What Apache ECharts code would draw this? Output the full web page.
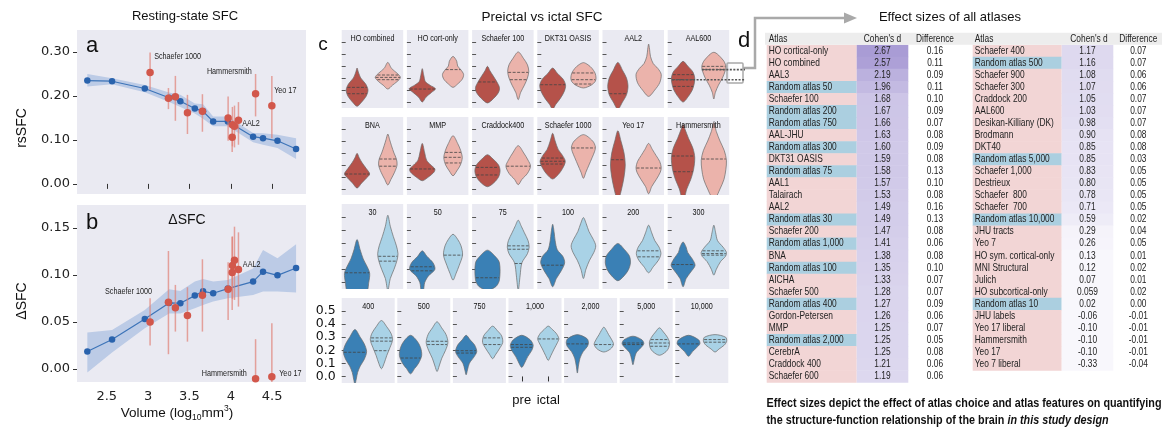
<!DOCTYPE html>
<html><head><meta charset="utf-8">
<script src="https://cdn.jsdelivr.net/npm/echarts@6/dist/echarts.min.js"></script>
<style>html,body{margin:0;padding:0;background:#fff;overflow:hidden}#c{width:1173px;height:430px}</style>
</head><body><div id="c"></div>
<script>
// ================= DATA =================
// Panels a/b: random-atlas trend (x = log10 volume)
const volX    = [2.265,2.564,2.96,3.254,3.39,3.565,3.665,3.787,3.965,4.27,4.39,4.565,4.79];
const rsMean  = [0.235,0.2335,0.217,0.196,0.188,0.1716,0.165,0.142,0.142,0.1073,0.104,0.098,0.0794];
const rsLow   = [0.2216,0.2267,0.2086,0.186,0.175,0.160,0.148,0.131,0.131,0.0945,0.089,0.0816,0.0567];
const rsHigh  = [0.250,0.240,0.225,0.208,0.2026,0.183,0.181,0.1535,0.1535,0.1157,0.115,0.112,0.104];
const dMean   = [0.0184,0.0312,0.0532,0.0702,0.0699,0.078,0.0826,0.0805,0.0855,0.0929,0.1035,0.0996,0.1074];
const dLow    = [-0.004,0.0173,0.0433,0.059,0.059,0.0646,0.068,0.0716,0.0752,0.0787,0.0823,0.0823,0.0812];
const dHigh   = [0.0386,0.0415,0.0628,0.0848,0.083,0.093,0.0957,0.093,0.0947,0.107,0.1266,0.1177,0.1326];
// named atlases (red)
const atlasX      = [3.024,3.246,3.33,3.476,3.657,3.968,4.017,4.02,4.045,4.093,4.30,4.497];
const rsAtlas     = [0.2533,0.195,0.198,0.162,0.165,0.1497,0.106,0.1345,0.131,0.1445,0.2048,0.1776];
const rsAtlasLow  = [0.214,0.170,0.1435,0.1134,0.1186,0.098,0.0726,0.0855,0.083,0.089,0.1535,0.104];
const rsAtlasHigh = [0.299,0.218,0.2456,0.2025,0.204,0.199,0.138,0.175,0.178,0.186,0.250,0.2456];
const dAtlas      = [0.05,0.071,0.0652,0.0567,0.0784,0.0848,0.1025,0.11,0.1156,0.1057,-0.0106,-0.0085];
const dAtlasLow   = [0.0248,0.0156,0.0397,0.029,0.0397,0.052,0.0628,0.0745,0.0734,0.0663,-0.06,-0.06];
const dAtlasHigh  = [0.0752,0.1255,0.0894,0.0869,0.1167,0.1135,0.1407,0.141,0.1514,0.1454,0.0316,0.0486];
const volTicks = [2.5,3,3.5,4,4.5];
const rsTicks = [0,0.1,0.2,0.3];
const dTicks = [0,0.05,0.10,0.15];
// annotation labels [text, x, y]
const rsNotes = [['Schaefer 1000',3.073,0.2896],['Hammersmith',3.711,0.2556],['Yeo 17',4.525,0.2138],['AAL2',4.138,0.1383]];
const dNotes  = [['Schaefer 1000',2.479,0.0822],['AAL2',4.146,0.1117],['Hammersmith',3.65,-0.0053],['Yeo 17',4.586,-0.0053]];

// Panel c: violins. shape = [[value, half-width (fraction of category band)], ...]
const panelNames = ['HO combined','HO cort-only','Schaefer 100','DKT31 OASIS','AAL2','AAL600',
  'BNA','MMP','Craddock400','Schaefer 1000','Yeo 17','Hammersmith',
  '30','50','75','100','200','300',
  '400','500','750','1,000','2,000','5,000','10,000'];
const violinGroups = ['pre','ictal'];
const violinTicks = [0,0.1,0.2,0.3,0.4,0.5];
const preShape = [
 [[-0.036,0],[0.0,0.15],[0.05,0.30],[0.10,0.355],[0.15,0.28],[0.20,0.12],[0.25,0.04],[0.283,0]],
 [[0,0],[0.04,0.12],[0.08,0.3],[0.11,0.43],[0.14,0.25],[0.17,0.1],[0.22,0.05],[0.278,0]],
 [[-0.008,0],[0.03,0.2],[0.08,0.36],[0.12,0.39],[0.17,0.3],[0.22,0.18],[0.26,0.08],[0.297,0]],
 [[-0.06,0],[-0.02,0.1],[0.03,0.25],[0.09,0.38],[0.14,0.42],[0.19,0.34],[0.24,0.15],[0.283,0]],
 [[-0.06,0],[0,0.15],[0.06,0.28],[0.13,0.33],[0.2,0.28],[0.26,0.16],[0.33,0]],
 [[0,0],[0.05,0.18],[0.1,0.3],[0.15,0.36],[0.2,0.38],[0.25,0.32],[0.3,0.15],[0.339,0]],
 [[0.008,0],[0.05,0.15],[0.09,0.3],[0.125,0.41],[0.17,0.3],[0.22,0.16],[0.26,0.07],[0.297,0]],
 [[0.069,0],[0.1,0.2],[0.14,0.38],[0.167,0.41],[0.2,0.28],[0.24,0.14],[0.3,0.08],[0.38,0]],
 [[0.019,0],[0.05,0.2],[0.1,0.36],[0.153,0.41],[0.2,0.36],[0.25,0.18],[0.286,0]],
 [[0.083,0],[0.12,0.18],[0.17,0.32],[0.23,0.41],[0.28,0.32],[0.33,0.18],[0.4,0.08],[0.464,0]],
 [[-0.07,0.04],[0.0,0.12],[0.1,0.2],[0.2,0.24],[0.3,0.2],[0.4,0.1],[0.486,0]],
 [[-0.07,0.04],[0,0.12],[0.08,0.25],[0.16,0.34],[0.26,0.38],[0.34,0.32],[0.42,0.18],[0.5,0.06],[0.54,0]],
 [[-0.07,0.3],[0,0.38],[0.07,0.41],[0.12,0.33],[0.18,0.2],[0.25,0.1],[0.328,0]],
 [[-0.07,0.03],[0,0.08],[0.05,0.2],[0.1,0.41],[0.15,0.35],[0.2,0.15],[0.242,0]],
 [[-0.06,0],[-0.03,0.28],[0.02,0.39],[0.15,0.39],[0.2,0.25],[0.247,0]],
 [[-0.033,0],[0.03,0.12],[0.09,0.28],[0.15,0.39],[0.2,0.33],[0.25,0.15],[0.32,0.08],[0.38,0.05],[0.445,0]],
 [[0.013,0],[0.05,0.2],[0.1,0.35],[0.15,0.41],[0.2,0.38],[0.25,0.22],[0.298,0]],
 [[-0.033,0],[0.03,0.1],[0.08,0.25],[0.13,0.39],[0.18,0.3],[0.23,0.15],[0.27,0.1],[0.31,0]],
 [[-0.06,0],[-0.02,0.05],[0.03,0.1],[0.08,0.2],[0.13,0.35],[0.19,0.44],[0.25,0.35],[0.3,0.2],[0.359,0]],
 [[0.02,0],[0.06,0.15],[0.1,0.3],[0.16,0.42],[0.22,0.38],[0.27,0.25],[0.315,0]],
 [[0.013,0],[0.05,0.05],[0.1,0.12],[0.15,0.3],[0.19,0.4],[0.24,0.32],[0.28,0.15],[0.315,0]],
 [[0.069,0],[0.1,0.1],[0.15,0.22],[0.2,0.38],[0.24,0.43],[0.28,0.32],[0.315,0]],
 [[0.026,0],[0.08,0.04],[0.14,0.1],[0.19,0.22],[0.23,0.38],[0.26,0.42],[0.29,0.36],[0.32,0]],
 [[0.09,0],[0.13,0.05],[0.18,0.12],[0.22,0.3],[0.25,0.41],[0.28,0.34],[0.308,0]],
 [[0.154,0],[0.19,0.15],[0.22,0.3],[0.25,0.43],[0.28,0.38],[0.315,0]]
];
const ictalShape = [
 [[0.108,0],[0.14,0.15],[0.17,0.3],[0.205,0.41],[0.24,0.3],[0.28,0.12],[0.33,0]],
 [[0.122,0],[0.15,0.15],[0.19,0.3],[0.23,0.344],[0.27,0.25],[0.30,0.15],[0.34,0.12],[0.38,0]],
 [[0.02,0],[0.08,0.08],[0.14,0.2],[0.2,0.3],[0.255,0.344],[0.31,0.3],[0.36,0.18],[0.417,0]],
 [[0.117,0],[0.14,0.25],[0.17,0.38],[0.2,0.41],[0.24,0.38],[0.28,0.28],[0.31,0.15],[0.328,0]],
 [[0.047,0],[0.1,0.2],[0.16,0.36],[0.23,0.41],[0.28,0.3],[0.32,0.15],[0.38,0.06],[0.44,0.03],[0.483,0]],
 [[0.025,0],[0.08,0.05],[0.14,0.15],[0.2,0.28],[0.26,0.37],[0.3,0.39],[0.35,0.3],[0.414,0]],
 [[0.033,0],[0.08,0.1],[0.14,0.22],[0.2,0.3],[0.25,0.28],[0.3,0.2],[0.36,0.12],[0.41,0.06],[0.458,0]],
 [[0.11,0],[0.15,0.12],[0.2,0.24],[0.26,0.3],[0.32,0.25],[0.38,0.15],[0.444,0]],
 [[0.036,0],[0.08,0.12],[0.13,0.3],[0.19,0.4],[0.24,0.32],[0.3,0.18],[0.361,0]],
 [[0.089,0],[0.14,0.08],[0.2,0.18],[0.26,0.28],[0.31,0.36],[0.35,0.39],[0.4,0.3],[0.453,0]],
 [[-0.04,0],[0.02,0.1],[0.08,0.25],[0.14,0.38],[0.18,0.41],[0.23,0.36],[0.28,0.24],[0.33,0.12],[0.38,0]],
 [[-0.07,0.06],[0,0.2],[0.08,0.33],[0.16,0.39],[0.24,0.41],[0.32,0.34],[0.4,0.2],[0.48,0.08],[0.556,0]],
 [[-0.06,0],[0.03,0.08],[0.1,0.2],[0.17,0.3],[0.22,0.33],[0.28,0.28],[0.35,0.18],[0.43,0.08],[0.514,0]],
 [[0.018,0],[0.07,0.1],[0.13,0.2],[0.21,0.31],[0.28,0.26],[0.33,0.15],[0.369,0]],
 [[-0.06,0],[0.05,0.06],[0.15,0.12],[0.22,0.3],[0.27,0.355],[0.32,0.32],[0.38,0.2],[0.43,0.1],[0.476,0]],
 [[0.03,0],[0.1,0.08],[0.17,0.2],[0.23,0.34],[0.28,0.4],[0.33,0.32],[0.39,0.18],[0.45,0.09],[0.496,0]],
 [[0.074,0],[0.12,0.15],[0.17,0.32],[0.22,0.4],[0.27,0.34],[0.32,0.2],[0.38,0.1],[0.438,0]],
 [[0.056,0],[0.1,0.08],[0.16,0.22],[0.2,0.38],[0.23,0.41],[0.27,0.3],[0.32,0.12],[0.38,0.06],[0.438,0]],
 [[0.059,0],[0.1,0.1],[0.16,0.2],[0.22,0.32],[0.28,0.42],[0.33,0.36],[0.38,0.2],[0.428,0]],
 [[0.038,0],[0.08,0.08],[0.14,0.18],[0.2,0.32],[0.26,0.41],[0.32,0.34],[0.37,0.18],[0.418,0]],
 [[0.136,0],[0.17,0.12],[0.21,0.25],[0.26,0.38],[0.31,0.34],[0.35,0.18],[0.385,0]],
 [[0.123,0],[0.16,0.1],[0.21,0.22],[0.26,0.35],[0.29,0.4],[0.33,0.3],[0.36,0.15],[0.385,0]],
 [[0.187,0],[0.21,0.25],[0.245,0.365],[0.28,0.3],[0.32,0.18],[0.35,0.1],[0.377,0]],
 [[0.162,0],[0.19,0.25],[0.22,0.35],[0.26,0.38],[0.3,0.3],[0.34,0.15],[0.372,0]],
 [[0.187,0],[0.21,0.15],[0.24,0.35],[0.27,0.44],[0.3,0.4],[0.32,0]]
];
const preQuart = [[0.069,0.122],[0.108],[0.167],[0.144],[0.069],[0.13,0.186,0.228],
 [0.125],[0.167],[0.117,0.18],[0.208,0.231,0.258],[0.244],[0.144,0.275],
 [0.074],[0.089,0.12],[0.036],[0.132],[],[0.137],
 [0.185],[0.141],[0.179,0.197],[0.223,0.244],[0.249],[0.244,0.256],[0.249]];
const ictalQuart = [[0.186,0.205,0.225],[0.27],[0.186,0.247],[0.15,0.186,0.242],[],[0.27,0.297],
 [0.19,0.25],[0.217,0.264,0.305],[0.19],[0.342],[0.175],[0.25],
 [0.163,0.2],[0.209],[0.145,0.254,0.28],[],[0.196,0.242],[0.209,0.221,0.242],
 [0.197,0.27,0.295],[0.244,0.269],[0.244,0.295],[0.287],[0.244],[0.231,0.256,0.282],[0.262,0.282]];

// Panel d: effect-size table
const leftAtlas = ['HO cortical-only','HO combined','AAL3','Random atlas 50','Schaefer 100','Random atlas 200','Random atlas 750','AAL-JHU','Random atlas 300','DKT31 OASIS','Random atlas 75','AAL1','Talairach','AAL2','Random atlas 30','Schaefer 200','Random atlas 1,000','BNA','Random atlas 100','AICHA','Schaefer 500','Random atlas 400','Gordon-Petersen','MMP','Random atlas 2,000','CerebrA','Craddock 400','Schaefer 600'];
const leftCohen = [2.67,2.57,2.19,1.96,1.68,1.67,1.66,1.63,1.60,1.59,1.58,1.57,1.53,1.49,1.49,1.47,1.41,1.38,1.35,1.33,1.28,1.27,1.26,1.25,1.25,1.25,1.21,1.19];
const leftDiff  = [0.16,0.11,0.09,0.11,0.10,0.09,0.07,0.08,0.09,0.08,0.13,0.10,0.08,0.16,0.13,0.08,0.06,0.08,0.10,0.07,0.07,0.09,0.06,0.07,0.05,0.08,0.06,0.06];
const rightAtlas = ['Schaefer 400','Random atlas 500','Schaefer 900','Schaefer 300','Craddock 200','AAL600','Desikan-Killiany (DK)','Brodmann','DKT40','Random atlas 5,000','Schaefer 1,000','Destrieux','Schaefer  800','Schaefer  700','Random atlas 10,000','JHU tracts','Yeo 7','HO sym. cortical-only','MNI Structural','Julich','HO subcortical-only','Random atlas 10','JHU labels','Yeo 17 liberal','Hammersmith','Yeo 17','Yeo 7 liberal'];
const rightCohen = [1.17,1.16,1.08,1.07,1.05,1.03,0.98,0.90,0.85,0.85,0.83,0.80,0.78,0.71,0.59,0.29,0.26,0.13,0.12,0.07,0.059,0.02,-0.06,-0.10,-0.10,-0.10,-0.33];
const rightDiff  = [0.07,0.07,0.06,0.06,0.07,0.07,0.07,0.08,0.08,0.03,0.05,0.05,0.05,0.05,0.02,0.04,0.05,0.01,0.02,0.01,0.02,0.00,-0.01,-0.01,-0.01,-0.01,-0.04];
const tableHeader = ['Atlas',"Cohen's d",'Difference'];
const captionLine1 = 'Effect sizes depict the effect of atlas choice and atlas features on quantifying';
const captionLine2a = 'the structure-function relationship of the brain ';
const captionLine2b = 'in this study design';

// ================= STYLE / LAYOUT =================
const SANS = "'Liberation Sans', Arial, sans-serif";
const NARROW = "'Liberation Sans Narrow', 'Liberation Sans', Arial, sans-serif";
const DEJAVU = "'DejaVu Sans', sans-serif";
const BG = '#eaeaf2';
const COLS = {L:{name:[1.7,91.7], cohen:[91.7,143.3], diff:170}, R:{name:[207.7,296.7], cohen:[296.7,348.3], diff:373.3}};

// condensed-text scale factors (the original uses an Arial-Narrow-like face)
const mctx = document.createElement('canvas').getContext('2d');
function measure(font, s){ mctx.font = font; return mctx.measureText(s).width; }
const TFONT = '10.5px '+NARROW;
const NS = Math.min(1, 75 / measure(TFONT, 'Random atlas 1,000'));
const NOTEFONT = '9.5px '+NARROW;
const NOTES_S = Math.min(1, 47 / measure(NOTEFONT, 'Schaefer 1000'));
const VTFONT = '9px '+NARROW;
const VT_S = Math.min(1, 44 / measure(VTFONT, 'HO combined'));
const CAPFONT = 'bold 12.5px '+NARROW;
const CAP_S = Math.min(1, 395 / measure(CAPFONT, captionLine1));

const chart = echarts.init(document.getElementById('c'), null, {width:1173, height:430});
const grids=[], xAxes=[], yAxes=[], series=[];

function fmt(v){ const s=v.toFixed(2); return Number(s)===v ? s : String(v); }
function interpW(prof, y){
  for (let i=0;i<prof.length-1;i++){ const a=prof[i], b=prof[i+1];
    if (y>=a[0] && y<=b[0]) return a[1]+(b[1]-a[1])*(y-a[0])/(b[0]-a[0]); }
  return 0;
}

function linePanel(gi, box, yr, yTicks, showXLabel, mean, lo, hi, aY, aLo, aHi, notes){
  grids.push({left:box[0], top:box[1], width:box[2], height:box[3], show:true, backgroundColor:BG, borderWidth:0});
  xAxes.push({gridIndex:gi, type:'value', min:2.14, max:4.91, axisLine:{show:false}, splitLine:{show:false},
    axisTick:{show:!showXLabel, length:5, customValues:volTicks, lineStyle:{color:'#333'}},
    axisLabel:{show:showXLabel, customValues:volTicks, fontFamily:DEJAVU, fontSize:13, color:'#222', margin:8}});
  yAxes.push({gridIndex:gi, type:'value', min:yr[0], max:yr[1], axisLine:{show:false}, splitLine:{show:false},
    axisTick:{show:true, length:4, customValues:yTicks, lineStyle:{color:'#333'}},
    axisLabel:{customValues:yTicks, formatter:v=>v.toFixed(2), fontFamily:DEJAVU, fontSize:13, color:'#222', margin:7}});
  series.push({type:'custom', xAxisIndex:gi, yAxisIndex:gi, silent:true, z:1,
    data:[[volX[0], mean[0]]],
    renderItem:(p, api)=>{
      const pts=[];
      volX.forEach((x,i)=>pts.push(api.coord([x, hi[i]])));
      for (let i=volX.length-1;i>=0;i--) pts.push(api.coord([volX[i], lo[i]]));
      return {type:'polygon', shape:{points:pts}, style:{fill:'#bccbe6'}};
    }});
  series.push({type:'line', xAxisIndex:gi, yAxisIndex:gi, z:3, data:volX.map((x,i)=>[x,mean[i]]),
    symbol:'circle', symbolSize:6.5, itemStyle:{color:'#2a63ad'}, lineStyle:{color:'#3d74b8', width:1.2}});
  series.push({type:'custom', xAxisIndex:gi, yAxisIndex:gi, clip:true, z:4,
    data:atlasX.map((x,i)=>[x, aLo[i], aHi[i]]), encode:{x:0, y:[1,2]},
    renderItem:(p, api)=>{
      const a=api.coord([api.value(0), api.value(1)]), b=api.coord([api.value(0), api.value(2)]);
      return {type:'line', shape:{x1:a[0],y1:a[1],x2:b[0],y2:b[1]}, style:{stroke:'rgba(224,128,118,0.7)', lineWidth:1.5}};
    }});
  series.push({type:'scatter', xAxisIndex:gi, yAxisIndex:gi, z:5, data:atlasX.map((x,i)=>[x,aY[i]]),
    symbolSize:7.5, itemStyle:{color:'#d2574b', opacity:1}});
  series.push({type:'custom', xAxisIndex:gi, yAxisIndex:gi, z:6, silent:true,
    data:notes.map(n=>[n[1], n[2]]),
    renderItem:(p, api)=>{
      const c=api.coord([api.value(0), api.value(1)]);
      return {type:'text', x:c[0], y:c[1], scaleX:NOTES_S, style:{text:notes[p.dataIndex][0], font:NOTEFONT, fill:'#222',
        align:'left', verticalAlign:'middle', textAlign:'left', textVerticalAlign:'middle'}};
    }});
}

linePanel(0, [77,30,229,164], [-0.023,0.35], rsTicks, false, rsMean, rsLow, rsHigh, rsAtlas, rsAtlasLow, rsAtlasHigh, rsNotes);
linePanel(1, [77,205,229,177], [-0.014,0.1745], dTicks, true, dMean, dLow, dHigh, dAtlas, dAtlasLow, dAtlasHigh, dNotes);

// ---- violins ----
const rowTop=[30,117,204,298], rowH=[78,78,85,85];
const palettes = [['#b5524a','#ebb3ab'],['#b5524a','#ebb3ab'],['#3a80b5','#a9d2e6'],['#3a80b5','#a9d2e6']];
panelNames.forEach((name, idx)=>{
  const row = idx<6?0: idx<12?1: idx<18?2:3;
  const col = idx - [0,6,12,18][row];
  const left = row<3 ? 341.7 + col*65.2 : 341.7 + col*55.6;
  const width = row<3 ? 61.5 : 53;
  const gi = idx+2;
  grids.push({left:left, top:rowTop[row], width:width, height:rowH[row], show:true, backgroundColor:BG, borderWidth:0});
  const showX = idx===21, showY = idx===18;
  xAxes.push({gridIndex:gi, type:'category', data:violinGroups, boundaryGap:true,
    axisLine:{show:false}, splitLine:{show:false},
    axisTick:{show:showX, alignWithLabel:true, interval:0, length:5, lineStyle:{color:'#333'}},
    axisLabel:{show:showX, interval:0, hideOverlap:false, fontFamily:SANS, fontSize:13, color:'#111', margin:11}});
  yAxes.push({gridIndex:gi, type:'value', min:-0.05, max:0.6, axisLine:{show:false}, splitLine:{show:false},
    axisTick:{show:true, inside:true, length:4, customValues:violinTicks, lineStyle:{color:'#555', width:1}},
    axisLabel:{show:showY, customValues:violinTicks, formatter:v=>v.toFixed(1), fontFamily:DEJAVU, fontSize:12.5, color:'#111', margin:6}});
  const pal = palettes[row];
  series.push({type:'custom', xAxisIndex:gi, yAxisIndex:gi, clip:true, silent:true,
    data:[[0,0],[1,0]], encode:{x:0,y:1},
    renderItem:(p, api)=>{
      const k = api.value(0);
      const prof = (k===0?preShape:ictalShape)[idx];
      const qs = (k===0?preQuart:ictalQuart)[idx];
      const cx = api.coord([k, 0])[0];
      const bw = api.size([1, 0])[0];
      const right = prof.map(([y,w])=>[cx + w*bw, api.coord([k,y])[1]]);
      const left = prof.slice().reverse().map(([y,w])=>[cx - w*bw, api.coord([k,y])[1]]);
      if (prof[prof.length-1][1]===0) left.shift();
      if (prof[0][1]===0) left.pop();
      const children=[{type:'polygon', shape:{points:right.concat(left), smooth:0.3},
        style:{fill:pal[k], stroke:'#6a6a6a', lineWidth:0.7}}];
      qs.forEach(q=>{
        const w = interpW(prof, q)*0.97, py = api.coord([k,q])[1];
        children.push({type:'line', shape:{x1:cx-w*bw, y1:py, x2:cx+w*bw, y2:py},
          style:{stroke:'#444', lineWidth:0.8, lineDash:[3,1.5]}});
      });
      return {type:'group', children};
    }});
  // panel title
  series.push({type:'custom', xAxisIndex:gi, yAxisIndex:gi, silent:true, data:[[0,0.6]], encode:{x:0,y:1},
    renderItem:(p, api)=>{
      const a=api.coord([0,0.6]), b=api.coord([1,0.6]);
      return {type:'text', x:(a[0]+b[0])/2, y:rowTop[row]+8.5, scaleX:VT_S, style:{text:name, font:VTFONT, fill:'#111',
        align:'center', verticalAlign:'middle', textAlign:'center', textVerticalAlign:'middle'}};
    }});
});

// ---- table ----
const TG = grids.length;
grids.push({left:765, top:32.7, width:397, height:349.5, show:false});
xAxes.push({gridIndex:TG, type:'value', min:0, max:397, show:false});
yAxes.push({gridIndex:TG, type:'value', min:-1.5, max:27.5, inverse:true, show:false});
function cohenColor(v){ const t=Math.pow(Math.max(0,Math.min(1,(v-0.1)/2.57)),1.25); return echarts.color.lerp(t,['#f8f7fc','#a99cd5']); }
function tText(txt, x, y, al){
  return {type:'text', x:x, y:y, scaleX:NS, style:{text:txt, font:TFONT, fill:'#222',
    align:al, verticalAlign:'middle', textAlign:al, textVerticalAlign:'middle'}};
}
function tableSeries(names, cohen, diff, col){
  series.push({type:'custom', xAxisIndex:TG, yAxisIndex:TG, silent:true,
    data:names.map((n,i)=>[col.diff, i]), encode:{x:0,y:1},
    renderItem:(p, api)=>{
      const i = api.value(1), n = names[i];
      const tl = api.coord([col.name[0], i-0.5]), br = api.coord([col.name[1], i+0.5]);
      const ctl = api.coord([col.cohen[0], i-0.5]), cbr = api.coord([col.cohen[1], i+0.5]);
      const cy = (tl[1]+br[1])/2;
      const rnd = n.indexOf('Random atlas')===0;
      const dx = api.coord([col.diff, i])[0];
      return {type:'group', children:[
        {type:'rect', shape:{x:tl[0], y:tl[1], width:br[0]-tl[0], height:br[1]-tl[1]+0.5}, style:{fill: rnd?'#abcfe0':'#f2d5d5'}},
        {type:'rect', shape:{x:ctl[0], y:ctl[1], width:cbr[0]-ctl[0], height:cbr[1]-ctl[1]+0.5}, style:{fill: cohenColor(cohen[i])}},
        tText(n, tl[0]+2, cy, 'left'),
        tText(fmt(cohen[i]), (ctl[0]+cbr[0])/2, cy, 'center'),
        tText(fmt(diff[i]), dx, cy, 'center')
      ]};
    }});
}
tableSeries(leftAtlas, leftCohen, leftDiff, COLS.L);
tableSeries(rightAtlas, rightCohen, rightDiff, COLS.R);
series.push({type:'custom', xAxisIndex:TG, yAxisIndex:TG, silent:true, data:[[0,-1]], encode:{x:0,y:1},
  renderItem:(p, api)=>{
    const tl = api.coord([0,-1.5]), br = api.coord([397,-0.5]);
    const cy=(tl[1]+br[1])/2;
    const T=(t,x,al)=>tText(t, api.coord([x,-1])[0], cy, al);
    return {type:'group', children:[
      {type:'rect', shape:{x:tl[0], y:tl[1], width:br[0]-tl[0], height:br[1]-tl[1]}, style:{fill:'#ededed'}},
      T(tableHeader[0], COLS.L.name[0]+2, 'left'), T(tableHeader[1], (COLS.L.cohen[0]+COLS.L.cohen[1])/2, 'center'), T(tableHeader[2], COLS.L.diff, 'center'),
      T(tableHeader[0], COLS.R.name[0]+2, 'left'), T(tableHeader[1], (COLS.R.cohen[0]+COLS.R.cohen[1])/2+1.5, 'center'), T(tableHeader[2], COLS.R.diff, 'center')
    ]};
  }});

function txt(text, x, y, font, extra){
  return Object.assign({type:'text', x:x, y:y, silent:true, style:Object.assign({text:text, font:font, fill:'#111',
    align:'center', verticalAlign:'middle', textAlign:'center', textVerticalAlign:'middle'}, extra||{})});
}
const graphic = [
  txt('Resting-state SFC', 185, 16, '13px '+SANS),
  txt('Preictal vs ictal SFC', 542, 17, '13.5px '+SANS),
  txt('Effect sizes of all atlases', 950, 17, '13px '+SANS),
  txt('a', 92, 46, '22px '+SANS),
  txt('b', 92, 223, '22px '+SANS),
  txt('c', 323, 45, '19px '+SANS),
  txt('d', 744, 41, '22px '+SANS),
  txt('ΔSFC', 187, 220, '14px '+SANS),
  Object.assign(txt('rsSFC', 22, 128, '14px '+SANS), {rotation:Math.PI/2}),
  Object.assign(txt('ΔSFC', 22, 301, '14px '+SANS), {rotation:Math.PI/2}),
  {type:'text', x:177, y:413, silent:true, style:{text:'{m|Volume (log}{s|10}{m|mm}{u|3}{m|)}', align:'center', verticalAlign:'middle', textAlign:'center', textVerticalAlign:'middle',
    rich:{m:{font:'13.5px '+SANS, fill:'#111', lineHeight:18, verticalAlign:'middle'}, s:{font:'8.5px '+SANS, fill:'#111', verticalAlign:'bottom', lineHeight:18}, u:{font:'8.5px '+SANS, fill:'#111', verticalAlign:'top', lineHeight:18}}}},
  {type:'text', x:766.5, y:404, scaleX:CAP_S, silent:true, style:{text:captionLine1, font:CAPFONT, fill:'#111', align:'left', verticalAlign:'middle', textAlign:'left', textVerticalAlign:'middle'}},
  {type:'text', x:766.5, y:420.5, scaleX:CAP_S, silent:true, style:{text:'{b|'+captionLine2a+'}{i|'+captionLine2b+'}', align:'left', verticalAlign:'middle', textAlign:'left', textVerticalAlign:'middle',
    rich:{b:{font:CAPFONT, fill:'#111'}, i:{font:'italic '+CAPFONT, fill:'#111'}}}},
  {type:'polyline', silent:true, shape:{points:[[743,68],[755,68],[755,18],[846,18]]}, style:{stroke:'#a9a9a9', lineWidth:2.5, fill:null}},
  {type:'polygon', silent:true, shape:{points:[[844,12.5],[857,18],[844,23.5]]}, style:{fill:'#a9a9a9'}},
  {type:'rect', silent:true, shape:{x:727, y:63, width:16, height:20, r:1}, style:{stroke:'#a9a9a9', lineWidth:1.5, fill:null}}
];

chart.setOption({animation:false, backgroundColor:'#ffffff', grid:grids, xAxis:xAxes, yAxis:yAxes, series:series, graphic:graphic});

// dotted connectors from AAL600 violins toward the table
const gA = 2+5;
const p1 = chart.convertToPixel({gridIndex:gA}, [1, 0.27]);
const p0 = chart.convertToPixel({gridIndex:gA}, [0, 0.186]);
graphic.push({type:'line', silent:true, z:100, shape:{x1:p1[0]-12, y1:p1[1], x2:745, y2:p1[1]}, style:{stroke:'#555', lineWidth:1.6, lineDash:[2,1.5]}});
graphic.push({type:'line', silent:true, z:100, shape:{x1:p0[0]-11, y1:p0[1], x2:745, y2:p0[1]}, style:{stroke:'#555', lineWidth:1.6, lineDash:[2,1.5]}});
chart.setOption({graphic:graphic});
</script></body></html>
